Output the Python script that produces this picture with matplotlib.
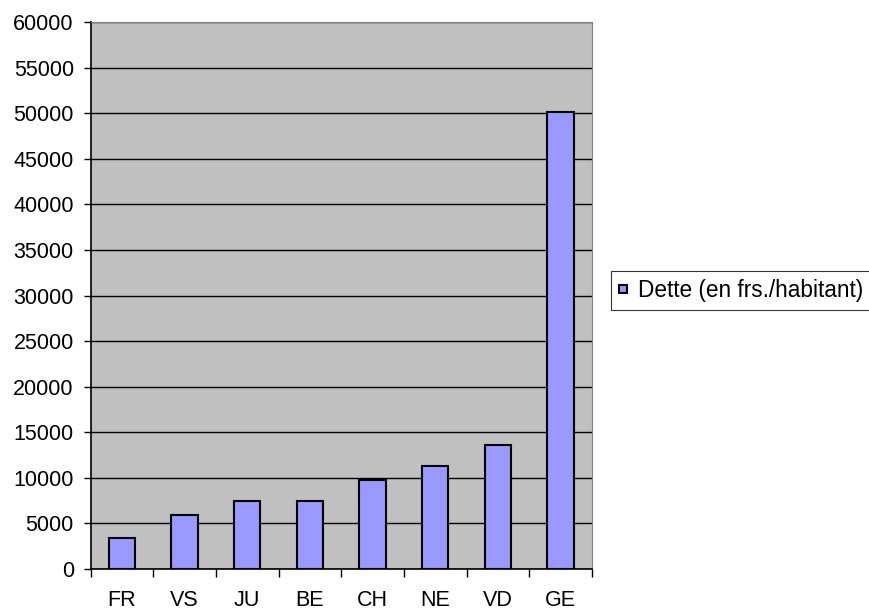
import matplotlib
matplotlib.use("Agg")
import matplotlib.pyplot as plt
import numpy as np

categories = ["FR", "VS", "JU", "BE", "CH", "NE", "VD", "GE"]
values = [3400, 5950, 7450, 7450, 9750, 11300, 13600, 50150]
series_label = "Dette (en frs./habitant)"
yticks = list(range(0, 60001, 5000))

plt.rcParams['font.family'] = ['Liberation Sans', 'DejaVu Sans']

fig = plt.figure(figsize=(8.69, 6.11), dpi=100)
ax = fig.add_axes([90.5/869, 1 - 569/611, (592-90.5)/869, (569-22)/611])

ax.set_facecolor("#c0c0c0")
x = np.arange(len(categories))
bars = ax.bar(x, values, width=0.42, color="#9999ff", edgecolor="black",
              linewidth=1.5, label=series_label, zorder=3)

ax.set_xlim(-0.5, len(categories) - 0.5)
ax.set_ylim(0, 60000)
ax.set_yticks(yticks)
ax.set_yticklabels([str(v) for v in yticks], fontsize=15.5)
ax.yaxis.grid(True, color="black", linewidth=1, zorder=1)
ax.set_axisbelow(True)

# x ticks at category boundaries, labels centered
ax.set_xticks(np.arange(-0.5, len(categories), 1.0))
ax.set_xticklabels([])
ax.set_xticks(x, minor=True)
ax.set_xticklabels(categories, minor=True, fontsize=15.5)
ax.tick_params(axis="x", which="minor", length=0, pad=15)
ax.tick_params(axis="x", which="major", length=6, width=1, direction="out", color="black")
ax.tick_params(axis="y", length=5, width=1, direction="out", pad=7)

ax.spines["left"].set_color("black")
ax.spines["bottom"].set_color("black")
ax.spines["left"].set_linewidth(1.2)
ax.spines["bottom"].set_linewidth(1.2)
ax.spines["top"].set_color("#808080")
ax.spines["right"].set_color("#808080")

leg = fig.legend(handles=[bars], labels=[series_label], loc="center left",
                 bbox_to_anchor=(611/869, 1 - 290.5/611), fontsize=16.3,
                 frameon=True, fancybox=False, edgecolor="black",
                 handlelength=0.36, handleheight=0.17, handletextpad=0.5,
                 borderpad=0.35, borderaxespad=0)
leg.get_frame().set_linewidth(0.8)

fig.savefig("out.png", dpi=100, facecolor="white")
